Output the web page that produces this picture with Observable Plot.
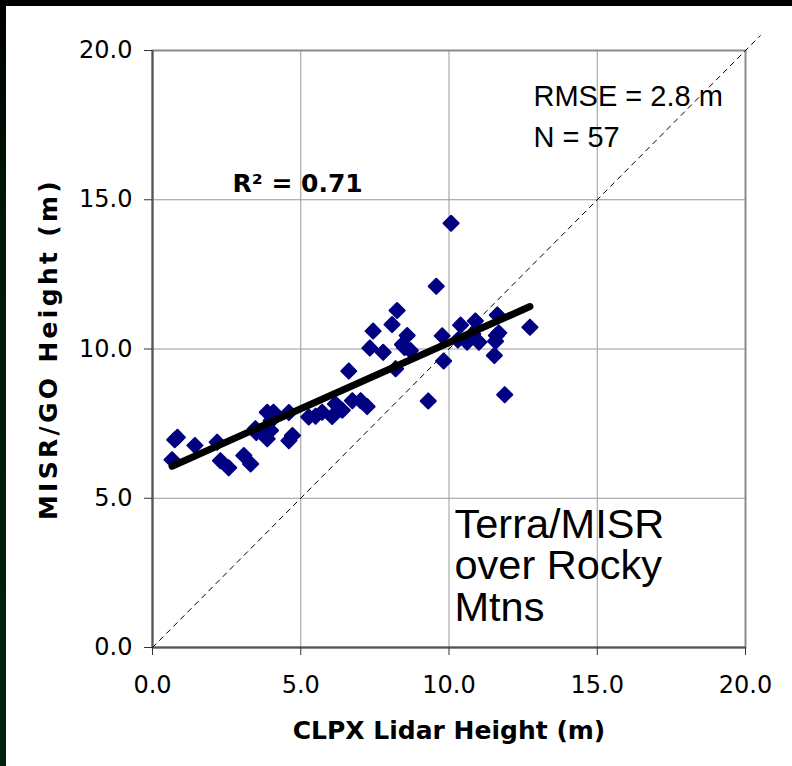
<!DOCTYPE html>
<html>
<head>
<meta charset="utf-8">
<script src="https://cdn.jsdelivr.net/npm/d3@7"></script>
<script src="https://cdn.jsdelivr.net/npm/@observablehq/plot@0.6"></script>
<style>
  html, body { margin: 0; padding: 0; width: 792px; height: 766px; overflow: hidden; background: #000; }
  #leftstrip { position: absolute; left: 0; top: 0; width: 6px; height: 766px; background: linear-gradient(#000 0%, #001a08 30%, #002208 100%); }
  #chart { position: absolute; left: 6px; top: 6px; width: 786px; height: 760px; background: #fff; }
</style>
</head>
<body>
<div id="leftstrip"></div>
<div id="chart"></div>
<script>
// CLPX lidar height (m)
const lidarHeight = [0.66,0.75,0.84,1.43,2.18,2.29,2.57,3.08,3.31,3.47,3.87,4.08,3.87,3.98,4.60,4.72,4.60,5.27,5.72,6.06,6.17,6.74,7.02,7.24,6.62,8.25,8.08,7.44,8.59,7.33,7.78,8.43,8.70,8.20,9.30,9.77,9.82,10.07,9.57,10.39,10.89,11.63,12.73,10.61,11.01,11.68,11.57,11.53,11.88,5.50,6.40,10.30,8.50,4.00,10.80,3.50,11.60];
// MISR/GO height (m)
const misrHeight = [6.29,6.96,7.04,6.77,6.88,6.26,6.02,6.43,6.15,7.33,7.88,7.88,6.99,7.27,6.93,7.10,7.87,7.72,7.88,7.74,8.16,8.27,8.27,8.07,9.26,11.29,10.82,10.60,10.45,10.03,9.89,10.15,9.95,9.34,8.26,10.44,9.60,14.21,12.10,10.80,10.94,11.14,10.73,10.23,10.23,10.54,10.26,9.78,8.47,7.75,7.95,10.30,10.05,7.60,10.50,7.20,10.45];
const axisTicks = [0, 5, 10, 15, 20];
const gridTicks = [5, 10, 15];
const oneToOne = [0, 20.5];
const statsLines = ["RMSE = 2.8 m", "N = 57"];
const r2Label = "R² = 0.71";
const siteLabel = ["Terra/MISR", "over Rocky", "Mtns"];
const xTitle = "CLPX Lidar Height (m)";
const yTitle = "MISR/GO Height (m)";

const points = lidarHeight.map((x, i) => ({x, y: misrHeight[i]}));
const refLine = oneToOne.map(v => ({x: v, y: v}));

const chart = Plot.plot({
  width: 786,
  height: 760,
  marginLeft: 146,
  marginRight: 47,
  marginTop: 44,
  marginBottom: 119,
  style: {fontFamily: "'DejaVu Sans', Verdana, sans-serif", color: "#000", background: "#fff"},
  x: {domain: [0, 20]},
  y: {domain: [0, 20]},
  marks: [
    Plot.gridX(gridTicks, {stroke: "#999", strokeOpacity: 1, strokeWidth: 1}),
    Plot.gridY(gridTicks, {stroke: "#999", strokeOpacity: 1, strokeWidth: 1}),
    Plot.frame({stroke: "#8a8a8a", strokeWidth: 2}),
    Plot.ruleX([0], {stroke: "#555", strokeWidth: 2}),
    Plot.ruleY([0], {stroke: "#555", strokeWidth: 2}),
    Plot.axisY({ticks: axisTicks, tickFormat: d3.format(".1f"), tickSize: 8, tickPadding: 12, fontSize: 24, label: null, stroke: "#333"}),
    Plot.axisX({ticks: axisTicks, tickFormat: d3.format(".1f"), tickSize: 8, tickPadding: 20, fontSize: 24, label: null, stroke: "#333"}),
    Plot.line(refLine, {x: "x", y: "y", stroke: "#000", strokeWidth: 1, strokeDasharray: "5,5", clip: false}),
    Plot.dot(points, {x: "x", y: "y", symbol: "diamond2", r: 6.8, fill: "#000080", stroke: "#000080", strokeWidth: 2, strokeLinejoin: "round"}),
    Plot.linearRegressionY(points, {x: "x", y: "y", stroke: "#000", strokeWidth: 7, ci: 0}),
    Plot.text([statsLines.join("\n")], {frameAnchor: "top-left", dx: 381, dy: 26, lineAnchor: "top", lineHeight: 1.42, fontSize: 29, fontFamily: "'Liberation Sans', Arial, sans-serif", fill: "#000"}),
    Plot.text([r2Label], {frameAnchor: "top-left", dx: 80, dy: 124, lineAnchor: "top", fontSize: 25, fontWeight: "bold", fill: "#000"}),
    Plot.text([siteLabel.join("\n")], {frameAnchor: "top-left", dx: 302, dy: 458, lineAnchor: "top", lineHeight: 1.0, fontSize: 41.5, fontFamily: "'Liberation Sans', Arial, sans-serif", fill: "#000"}),
    Plot.text([xTitle], {frameAnchor: "bottom", dy: 74, lineAnchor: "top", fontSize: 25, fontWeight: "bold", fill: "#000"}),
    Plot.text([yTitle], {frameAnchor: "left", dx: -104, rotate: -90, textAnchor: "middle", fontSize: 25, fontWeight: "bold", fill: "#000"})
  ]
});
document.getElementById("chart").appendChild(chart);
d3.select(chart).selectAll("text").filter(function () { return this.textContent === yTitle; })
  .attr("letter-spacing", "3.3px");
</script>
</body>
</html>
